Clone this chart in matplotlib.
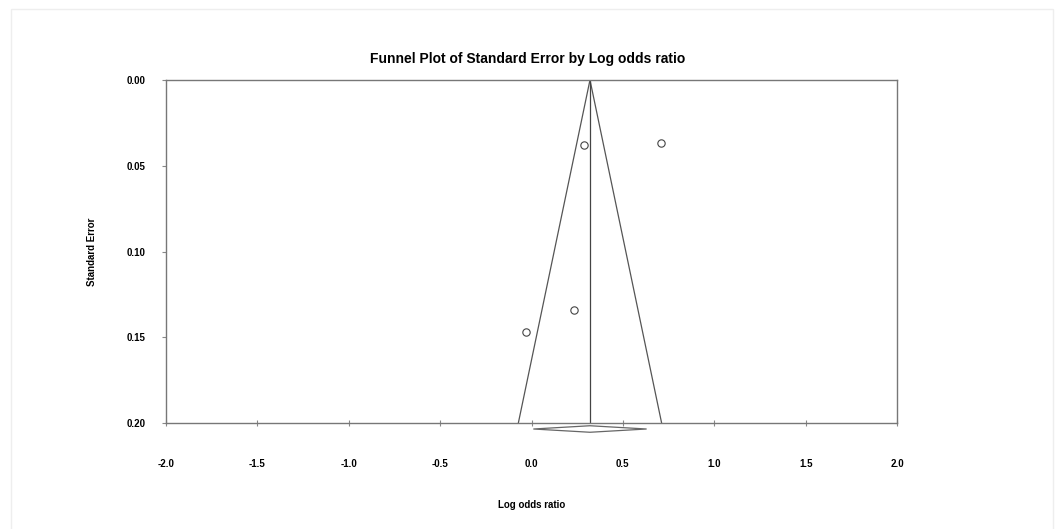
import matplotlib.pyplot as plt
import numpy as np
from matplotlib.patches import Rectangle

plt.rcParams['font.family'] = ['Liberation Sans', 'DejaVu Sans']

# Study estimates
log_or = [0.29, 0.71, 0.23, -0.03]
std_err = [0.038, 0.037, 0.134, 0.147]

# Pooled estimate and its interval (diamond)
pooled = 0.32
pooled_lo = 0.01
pooled_hi = 0.63

x_ticks = [-2.0, -1.5, -1.0, -0.5, 0.0, 0.5, 1.0, 1.5, 2.0]
y_ticks = [0.00, 0.05, 0.10, 0.15, 0.20]

fig = plt.figure(figsize=(10.57, 5.29), dpi=100)
ax = fig.add_axes([166 / 1057, 1 - 423 / 529, (897 - 166) / 1057, (423 - 80) / 529])

# funnel: pooled +/- 1.96 * SE
se_max = 0.20
ax.plot([pooled - 1.96 * se_max, pooled, pooled + 1.96 * se_max], [se_max, 0.0, se_max],
        color='#555555', lw=0.9)
ax.plot([pooled, pooled], [0.0, se_max], color='#444444', lw=0.9)

ax.scatter(log_or, std_err, s=28, facecolors='white', edgecolors='#444444', linewidths=0.8, zorder=3)

# diamond for the combined effect, drawn under the axis
ax.fill([pooled_lo, pooled, pooled_hi, pooled],
        [se_max + 0.0035, se_max + 0.0016, se_max + 0.0035, se_max + 0.0054],
        facecolor='white', edgecolor='#666666', lw=0.9, clip_on=False, zorder=4)

ax.set_xlim(-2.0, 2.0)
ax.set_ylim(0.20, 0.00)
ax.set_xticks(x_ticks)
ax.set_yticks(y_ticks)
ax.set_xticklabels([f'{v:.1f}' for v in x_ticks], fontsize=7, fontweight='bold')
ax.set_yticklabels([f'{v:.2f}' for v in y_ticks], fontsize=7, fontweight='bold')
ax.tick_params(axis='x', direction='inout', length=4, pad=24, color='#888888')
ax.tick_params(axis='y', direction='out', length=3, pad=12, color='#888888')
for sp in ax.spines.values():
    sp.set_color('#777777')
    sp.set_linewidth(1.0)

ax.set_xlabel('Log odds ratio', fontsize=7, fontweight='bold', labelpad=22)
ax.set_ylabel('Standard Error', fontsize=7, fontweight='bold', labelpad=21)
fig.text(528 / 1057, 1 - 59 / 529, 'Funnel Plot of Standard Error by Log odds ratio',
         ha='center', va='center', fontsize=10, fontweight='bold')

# faint frame around the whole picture
fig.patches.append(Rectangle((11 / 1057, -0.05), (1053 - 11) / 1057, 1 - 9 / 529 + 0.05,
                             transform=fig.transFigure, fill=False, edgecolor='#eeeeee', lw=1))

fig.savefig('out.png', dpi=100)
